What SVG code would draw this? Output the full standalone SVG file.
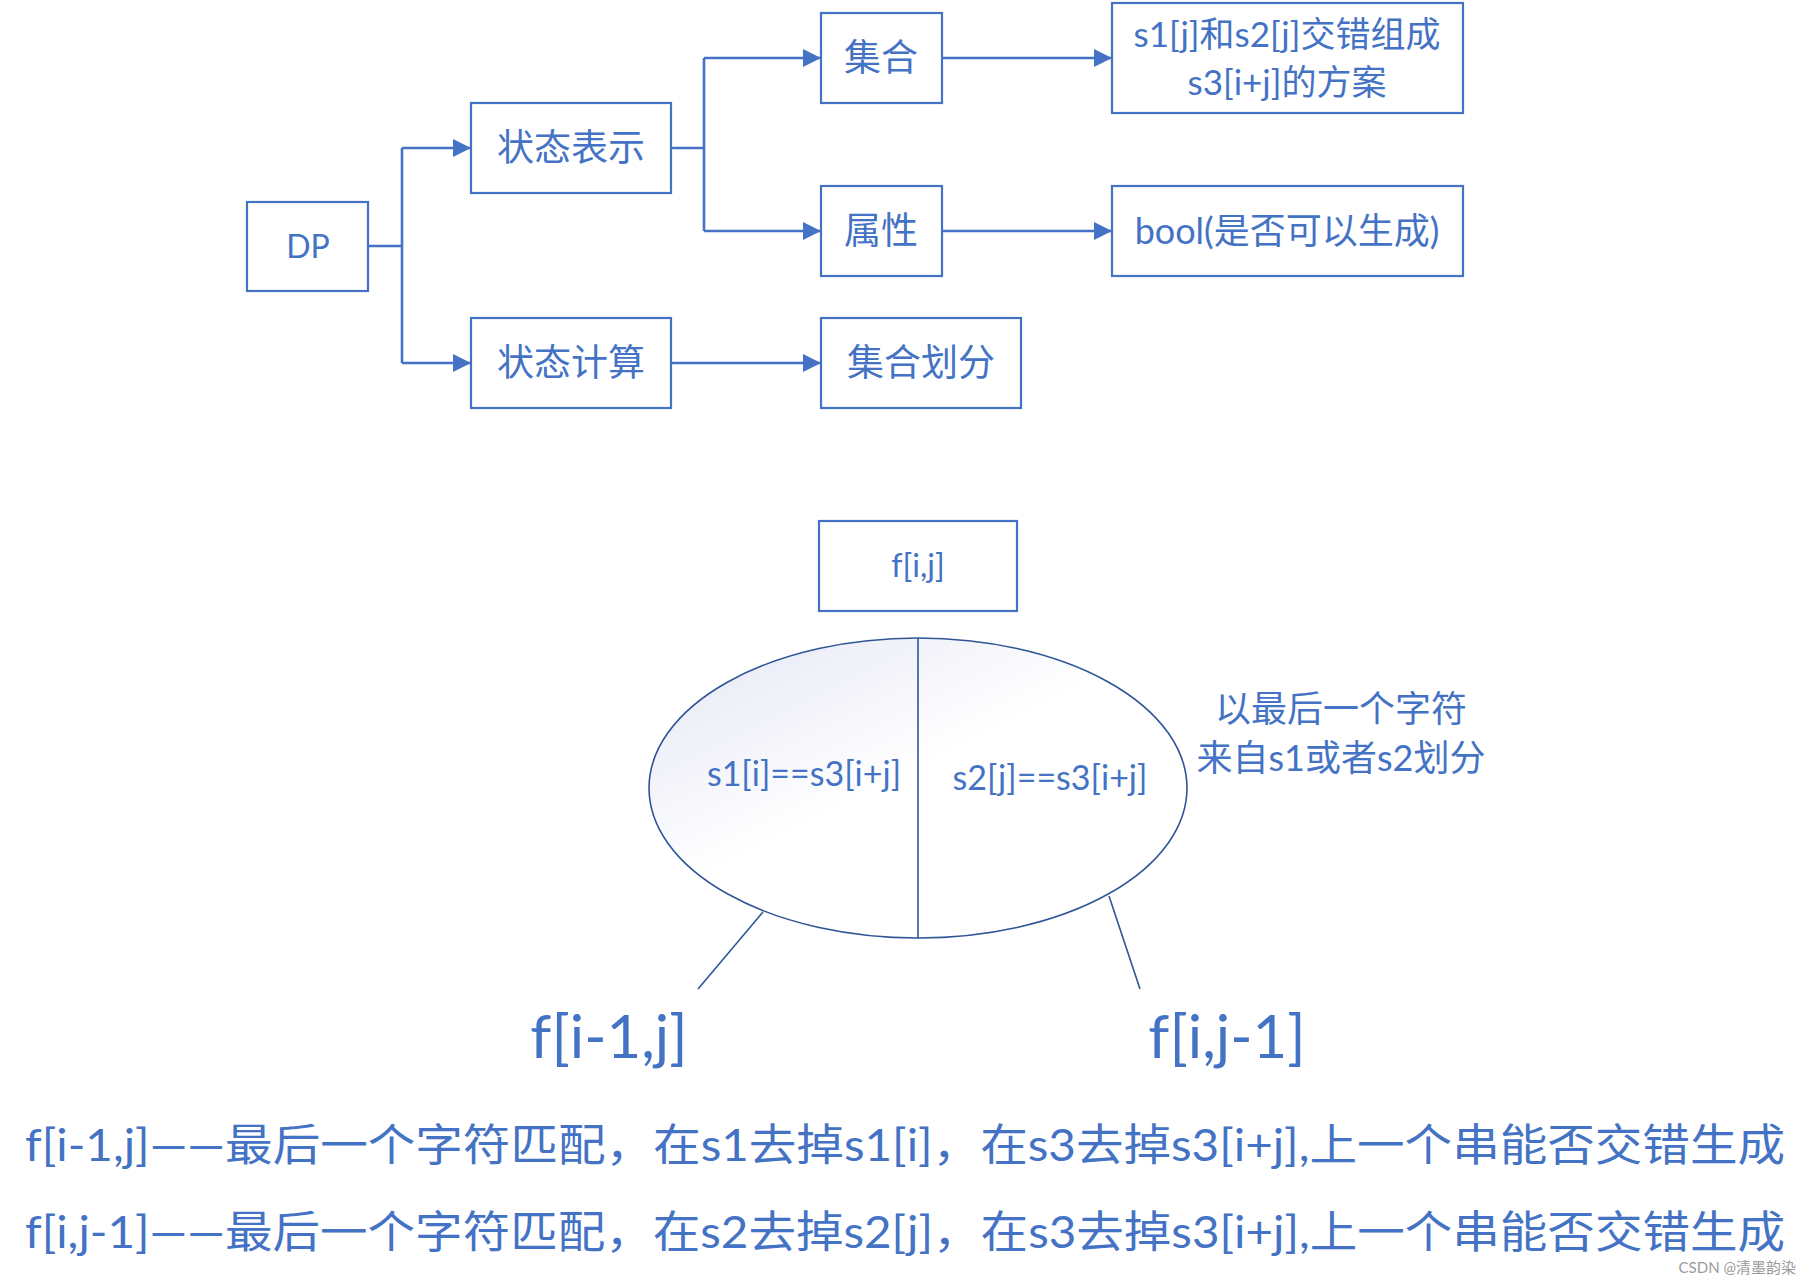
<svg xmlns="http://www.w3.org/2000/svg" width="1811" height="1286" viewBox="0 0 1811 1286">
<style>
.box{fill:#fff;stroke:#4472C4;stroke-width:2.2}
.t{font-family:Lato,"Noto Sans CJK SC",sans-serif;fill:#4472C4;text-anchor:middle}
.c{fill:none;stroke:#4472C4;stroke-width:2.6}
.thin{fill:none;stroke:#2F5597;stroke-width:1.6}
</style>
<defs>
<marker id="ah" viewBox="0 0 10 10" refX="10" refY="5" markerWidth="7" markerHeight="7" markerUnits="strokeWidth" orient="auto">
<path d="M0,0 L10,5 L0,10 z" fill="#4472C4"/>
</marker>
<linearGradient id="eg" x1="0" y1="0" x2="0.8" y2="0.9">
<stop offset="0" stop-color="#E4E6F4"/>
<stop offset="0.55" stop-color="#FFFFFF"/>
</linearGradient>
</defs>
<rect width="1811" height="1286" fill="#fff"/>
<g id="connectors">
<path class="c" d="M368,246 H402 M402,148 V363"/>
<path class="c" d="M402,148 H471" marker-end="url(#ah)"/>
<path class="c" d="M402,363 H471" marker-end="url(#ah)"/>
<path class="c" d="M671,148 H704 M704,58 V231"/>
<path class="c" d="M704,58 H821" marker-end="url(#ah)"/>
<path class="c" d="M704,231 H821" marker-end="url(#ah)"/>
<path class="c" d="M942,58 H1112" marker-end="url(#ah)"/>
<path class="c" d="M942,231 H1112" marker-end="url(#ah)"/>
<path class="c" d="M671,363 H821" marker-end="url(#ah)"/>
</g>
<g id="n-dp"><rect class="box" x="247" y="202" width="121" height="89"/><text class="t" x="308" y="258" font-size="32">DP</text></g>
<g id="n-zt1"><rect class="box" x="471" y="103" width="200" height="90"/><text class="t" x="571" y="161" font-size="37">状态表示</text></g>
<g id="n-zt2"><rect class="box" x="471" y="318" width="200" height="90"/><text class="t" x="571" y="376" font-size="37">状态计算</text></g>
<g id="n-jh"><rect class="box" x="821" y="13" width="121" height="90"/><text class="t" x="881" y="71" font-size="37">集合</text></g>
<g id="n-sx"><rect class="box" x="821" y="186" width="121" height="90"/><text class="t" x="881" y="244" font-size="37">属性</text></g>
<g id="n-jhhf"><rect class="box" x="821" y="318" width="200" height="90"/><text class="t" x="921" y="376" font-size="37">集合划分</text></g>
<g id="n-fa"><rect class="box" x="1112" y="3" width="351" height="110"/>
<text class="t" x="1287" y="47" font-size="35">s1[j]和s2[j]交错组成</text>
<text class="t" x="1287" y="95" font-size="35">s3[i+j]的方案</text></g>
<g id="n-bool"><rect class="box" x="1112" y="186" width="351" height="90"/><text class="t" x="1287" y="244" font-size="36">bool(是否可以生成)</text></g>
<g id="n-fij"><rect class="box" x="819" y="521" width="198" height="90"/><text class="t" x="918" y="577" font-size="32">f[i,j]</text></g>
<g id="n-ellipse">
<ellipse cx="918" cy="788" rx="269" ry="150" fill="url(#eg)" stroke="#2F5597" stroke-width="1.6"/>
<line class="thin" x1="918" y1="638" x2="918" y2="938" stroke-width="2"/>
<text class="t" x="804" y="786" font-size="34">s1[i]==s3[i+j]</text>
<text class="t" x="1050" y="790" font-size="34">s2[j]==s3[i+j]</text>
</g>
<g id="n-note">
<text class="t" x="1341" y="722" font-size="36">以最后一个字符</text>
<text class="t" x="1341" y="771" font-size="36">来自s1或者s2划分</text>
</g>
<g id="branch-lines">
<line class="thin" x1="763" y1="912" x2="698" y2="989"/>
<line class="thin" x1="1109" y1="896" x2="1140" y2="989"/>
</g>
<g id="n-f1"><text class="t" x="609" y="1058" font-size="60">f[i-1,j]</text></g>
<g id="n-f2"><text class="t" x="1227" y="1058" font-size="60">f[i,j-1]</text></g>
<g id="notes">
<text class="t" x="905" y="1161" font-size="44" textLength="1760" lengthAdjust="spacingAndGlyphs">f[i-1,j]——最后一个字符匹配，在s1去掉s1[i]，在s3去掉s3[i+j],上一个串能否交错生成</text>
<text class="t" x="905" y="1248" font-size="44" textLength="1760" lengthAdjust="spacingAndGlyphs">f[i,j-1]——最后一个字符匹配，在s2去掉s2[j]，在s3去掉s3[i+j],上一个串能否交错生成</text>
</g>
<text x="1796" y="1273" font-family="Lato,'Noto Sans CJK SC',sans-serif" font-size="15" fill="#9a9a9a" text-anchor="end">CSDN @清墨韵染</text>
</svg>
